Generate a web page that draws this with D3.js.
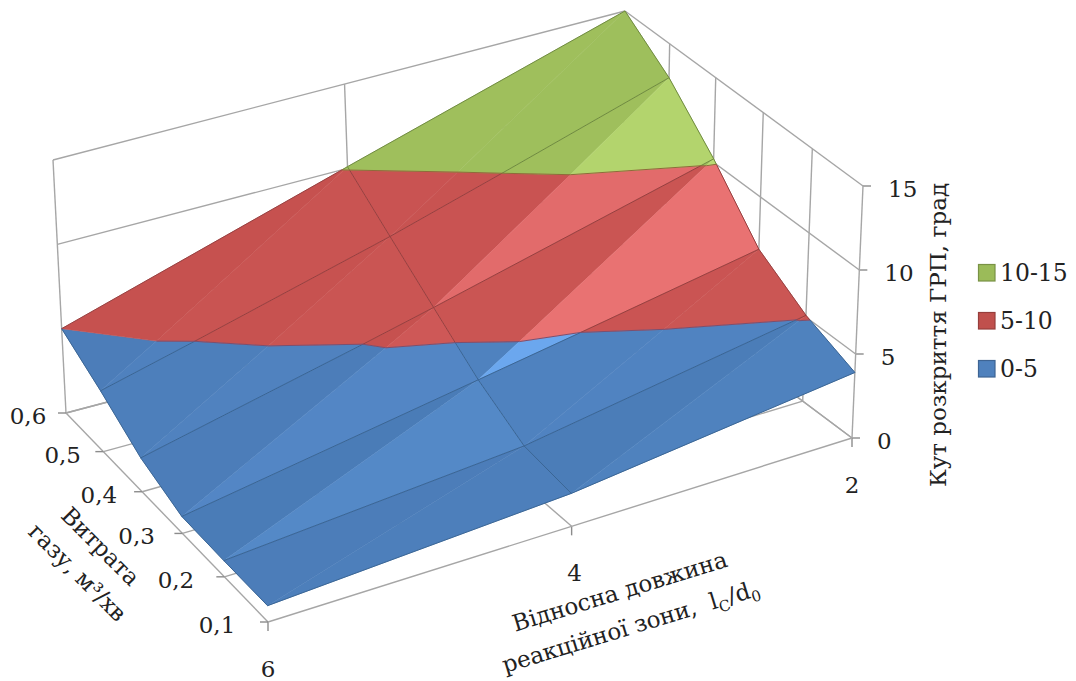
<!DOCTYPE html>
<html><head><meta charset="utf-8">
<style>html,body{margin:0;padding:0;background:#fff}svg{display:block}text{font-family:"DejaVu Serif",serif;fill:#222}</style>
<script src="https://d3js.org/d3.v7.min.js"></script></head>
<body><svg id="c" width="1076" height="681"></svg>
<script>
// ---- data ----
const lengthCats = [6, 4, 2];                         // l_c/d_0
const flowCats = ["0,1","0,2","0,3","0,4","0,5","0,6"]; // gas flow, m3/min
const angleTicks = [0, 5, 10, 15];
const angleAtL6 = [0.95, 0.95, 1.0, 2.0, 3.6, 5.0];
const angleAtL4 = [1.95, 2.35, 3.95, 6.0, 8.05, 10.1];
const angleAtL2 = [3.9, 5.1, 6.9, 10.2, 13.0, 15.0];
const bandNames = ["0-5","5-10","10-15"];
const bandLimits = [[0,5],[5,10],[10,15]];

// ---- look ----
const bandBase = ["#4F81BD","#C0504D","#9BBB59"];
const bandDark = ["#4a7bb6","#c44f4d","#9bbb59"];
const bandLight = ["#6ba7ee","#e97272","#b9da72"];
const bandLine = ["#3a6594","#964040","#6f8a40"];
const gridCol = "#a6a6a6";

const surface = [angleAtL6, angleAtL4, angleAtL2];
const svg = d3.select("#c");

// ---- projection: two perspective planes (floor and ceiling of the box) ----
function quadMap(p0,p1,p2,p3){ // (0,0),(1,0),(1,1),(0,1)
  const dx1=p1[0]-p2[0],dx2=p3[0]-p2[0],sx=p0[0]-p1[0]+p2[0]-p3[0];
  const dy1=p1[1]-p2[1],dy2=p3[1]-p2[1],sy=p0[1]-p1[1]+p2[1]-p3[1];
  const det=dx1*dy2-dx2*dy1;
  const g=(sx*dy2-dx2*sy)/det,h=(dx1*sy-sx*dy1)/det;
  const a=p1[0]-p0[0]+g*p1[0],b=p3[0]-p0[0]+h*p3[0],c=p0[0];
  const d=p1[1]-p0[1]+g*p1[1],e=p3[1]-p0[1]+h*p3[1],f=p0[1];
  return (u,v)=>{const w=g*u+h*v+1;return [(a*u+b*v+c)/w,(d*u+e*v+f)/w];};
}
const floorMap = quadMap([268,622],[852,438],[622,266],[66,413]);
const ceilMap  = quadMap([261,364],[863,186],[625,11],[53,160]);
const uScale = d3.scaleOrdinal().domain(lengthCats).range([0,0.49,1]);
const vScale = d3.scalePoint().domain(flowCats).range([0,1]);
const zScale = d3.scaleLinear().domain([0,15]).range([0,1]);
function proj(u,v,z){
  const a=floorMap(u,v),b=ceilMap(u,v),t=zScale(z);
  return [a[0]+(b[0]-a[0])*t,a[1]+(b[1]-a[1])*t];
}
const line = d3.line();
function seg(g,a,b,col,w){ g.append("path").attr("d",line([a,b])).attr("fill","none").attr("stroke",col).attr("stroke-width",w); }

// ---- box grid ----
const gGrid = svg.append("g");
const gw=1.4;
angleTicks.forEach(z=>{
  seg(gGrid,proj(0,1,z),proj(1,1,z),gridCol,gw);
  seg(gGrid,proj(1,0,z),proj(1,1,z),gridCol,gw);
  const a=proj(1,0,z);
  seg(gGrid,a,[a[0]+8,a[1]],"#8c8c8c",gw);
});
lengthCats.forEach(c=>seg(gGrid,proj(uScale(c),1,0),proj(uScale(c),1,15),gridCol,gw));
flowCats.forEach(c=>seg(gGrid,proj(1,vScale(c),0),proj(1,vScale(c),15),gridCol,gw));
lengthCats.forEach(c=>{
  const a=proj(uScale(c),0,0);
  seg(gGrid,a,proj(uScale(c),1,0),gridCol,gw);
  seg(gGrid,a,[a[0],a[1]+9],"#8c8c8c",gw);
});
flowCats.forEach(c=>{
  const a=proj(0,vScale(c),0);
  seg(gGrid,a,proj(1,vScale(c),0),gridCol,gw);
  seg(gGrid,a,[a[0]-8,a[1]],"#8c8c8c",gw);
});

// ---- surface ----
const gSurf = svg.append("g");
const shade = d3.scaleLinear().domain([-1.2,0,0.9,1.15,1.33,2.3]).range([0,0.08,0.2,0.33,0.8,1]).clamp(true);
const lerpV=(a,b,t)=>({u:a.u+(b.u-a.u)*t,v:a.v+(b.v-a.v)*t,z:a.z+(b.z-a.z)*t});
function clip(poly,level,keepAbove){
  const out=[];
  poly.forEach((p,k)=>{
    const q=poly[(k+1)%poly.length];
    const pin=keepAbove?p.z>=level:p.z<=level, qin=keepAbove?q.z>=level:q.z<=level;
    if(pin) out.push(p);
    if(pin!==qin) out.push(lerpV(p,q,(level-p.z)/(q.z-p.z)));
  });
  return out;
}
const vert=(i,j)=>({u:uScale(lengthCats[i]),v:vScale(flowCats[j]),z:surface[i][j]});
function drawTri(tri,score){
  bandLimits.forEach((lim,b)=>{
    let poly=clip(clip(tri,lim[0],true),lim[1],false);
    if(poly.length<3) return;
    const col=d3.interpolateRgb(bandDark[b],bandLight[b])(shade(score));
    gSurf.append("path").attr("d",line(poly.map(p=>proj(p.u,p.v,p.z)))+"Z")
      .attr("fill",col).attr("stroke",col).attr("stroke-width",0.5);
  });
}
for(let j=flowCats.length-2;j>=0;j--){
  for(let i=lengthCats.length-2;i>=0;i--){
    const a=vert(i+1,j),b=vert(i+1,j+1),c=vert(i,j),d=vert(i,j+1);
    const s1=(b.z-a.z)-0.35*(a.z-c.z);
    const s2=(d.z-c.z)-0.35*(b.z-d.z);
    drawTri([b,d,c],s2);
    drawTri([a,b,c],s1);
  }
}
function meshLine(p,q){
  const cuts=[0,1];
  [5,10].forEach(l=>{ if((p.z-l)*(q.z-l)<0) cuts.push((l-p.z)/(q.z-p.z)); });
  cuts.sort((x,y)=>x-y);
  for(let k=0;k<cuts.length-1;k++){
    const a=lerpV(p,q,cuts[k]),b=lerpV(p,q,cuts[k+1]),mz=(a.z+b.z)/2;
    const band=mz<5?0:mz<10?1:2;
    seg(gSurf,proj(a.u,a.v,a.z),proj(b.u,b.v,b.z),bandLine[band],1);
  }
}
flowCats.forEach((c,j)=>{ for(let i=0;i<lengthCats.length-1;i++) meshLine(vert(i,j),vert(i+1,j)); });
lengthCats.forEach((c,i)=>{ for(let j=0;j<flowCats.length-1;j++) meshLine(vert(i,j),vert(i,j+1)); });
[5,10].forEach((l,k)=>{
  for(let j=0;j<flowCats.length-1;j++) for(let i=0;i<lengthCats.length-1;i++){
    const a=vert(i+1,j),b=vert(i+1,j+1),c=vert(i,j),d=vert(i,j+1);
    [[a,b,c],[b,d,c]].forEach(t=>{
      const pts=[];
      t.forEach((p,n)=>{const q=t[(n+1)%3]; if((p.z-l)*(q.z-l)<0) pts.push(lerpV(p,q,(l-p.z)/(q.z-p.z)));});
      if(pts.length===2) seg(gSurf,proj(pts[0].u,pts[0].v,pts[0].z),proj(pts[1].u,pts[1].v,pts[1].z),k?"#8f6a3a":"#7a5070",1);
    });
  }
});

// ---- tick labels ----
const fs=23;
const gText=svg.append("g").attr("font-size",fs);
const flowDx=d3.scaleLinear().domain([0,1]).range([-51,-38]);
flowCats.forEach(c=>{
  const v=vScale(c),a=proj(0,v,0);
  gText.append("text").attr("x",a[0]+flowDx(v)).attr("y",a[1]+11).attr("text-anchor","middle").text(c);
});
lengthCats.forEach(c=>{
  const a=proj(uScale(c),0,0);
  gText.append("text").attr("x",a[0]+(c===4?3:0)).attr("y",a[1]+55).attr("text-anchor","middle").text(c);
});
angleTicks.forEach(z=>{
  const a=proj(1,0,z);
  gText.append("text").attr("x",a[0]+25).attr("y",a[1]+11).text(z);
});

// ---- axis titles ----
function title(x,y,rot,size,build){
  const t=svg.append("text").attr("transform",`translate(${x},${y}) rotate(${rot})`)
    .attr("text-anchor","middle").attr("font-size",size);
  build(t);
}
title(95,552,45,23,t=>t.text("Витрата"));
title(72,578,45,23,t=>t.text("газу, м³/хв"));
title(622,599,-17,23,t=>t.text("Відносна довжина"));
title(633,634,-17,23,t=>{
  t.append("tspan").text("реакційної зони,\u00A0\u00A0l");
  t.append("tspan").attr("dy",5).attr("font-size",15).text("C");
  t.append("tspan").attr("dy",-5).text("/d");
  t.append("tspan").attr("dy",5).attr("font-size",15).text("0");
});
title(946,335,-90,23,t=>t.text("Кут розкриття ГРП, град"));

// ---- legend ----
const legendY=d3.scalePoint().domain(bandNames.slice().reverse()).range([273,369]);
bandNames.forEach((n,i)=>{
  const y=legendY(n);
  svg.append("rect").attr("x",978.5).attr("y",y-8.5).attr("width",16.5).attr("height",16.5)
    .attr("fill",bandBase[i]).attr("stroke",d3.rgb(bandBase[i]).darker(0.7)).attr("stroke-width",1.2);
  svg.append("text").attr("x",1000).attr("y",y+8).attr("font-size",23.5).text(n);
});
</script></body></html>
